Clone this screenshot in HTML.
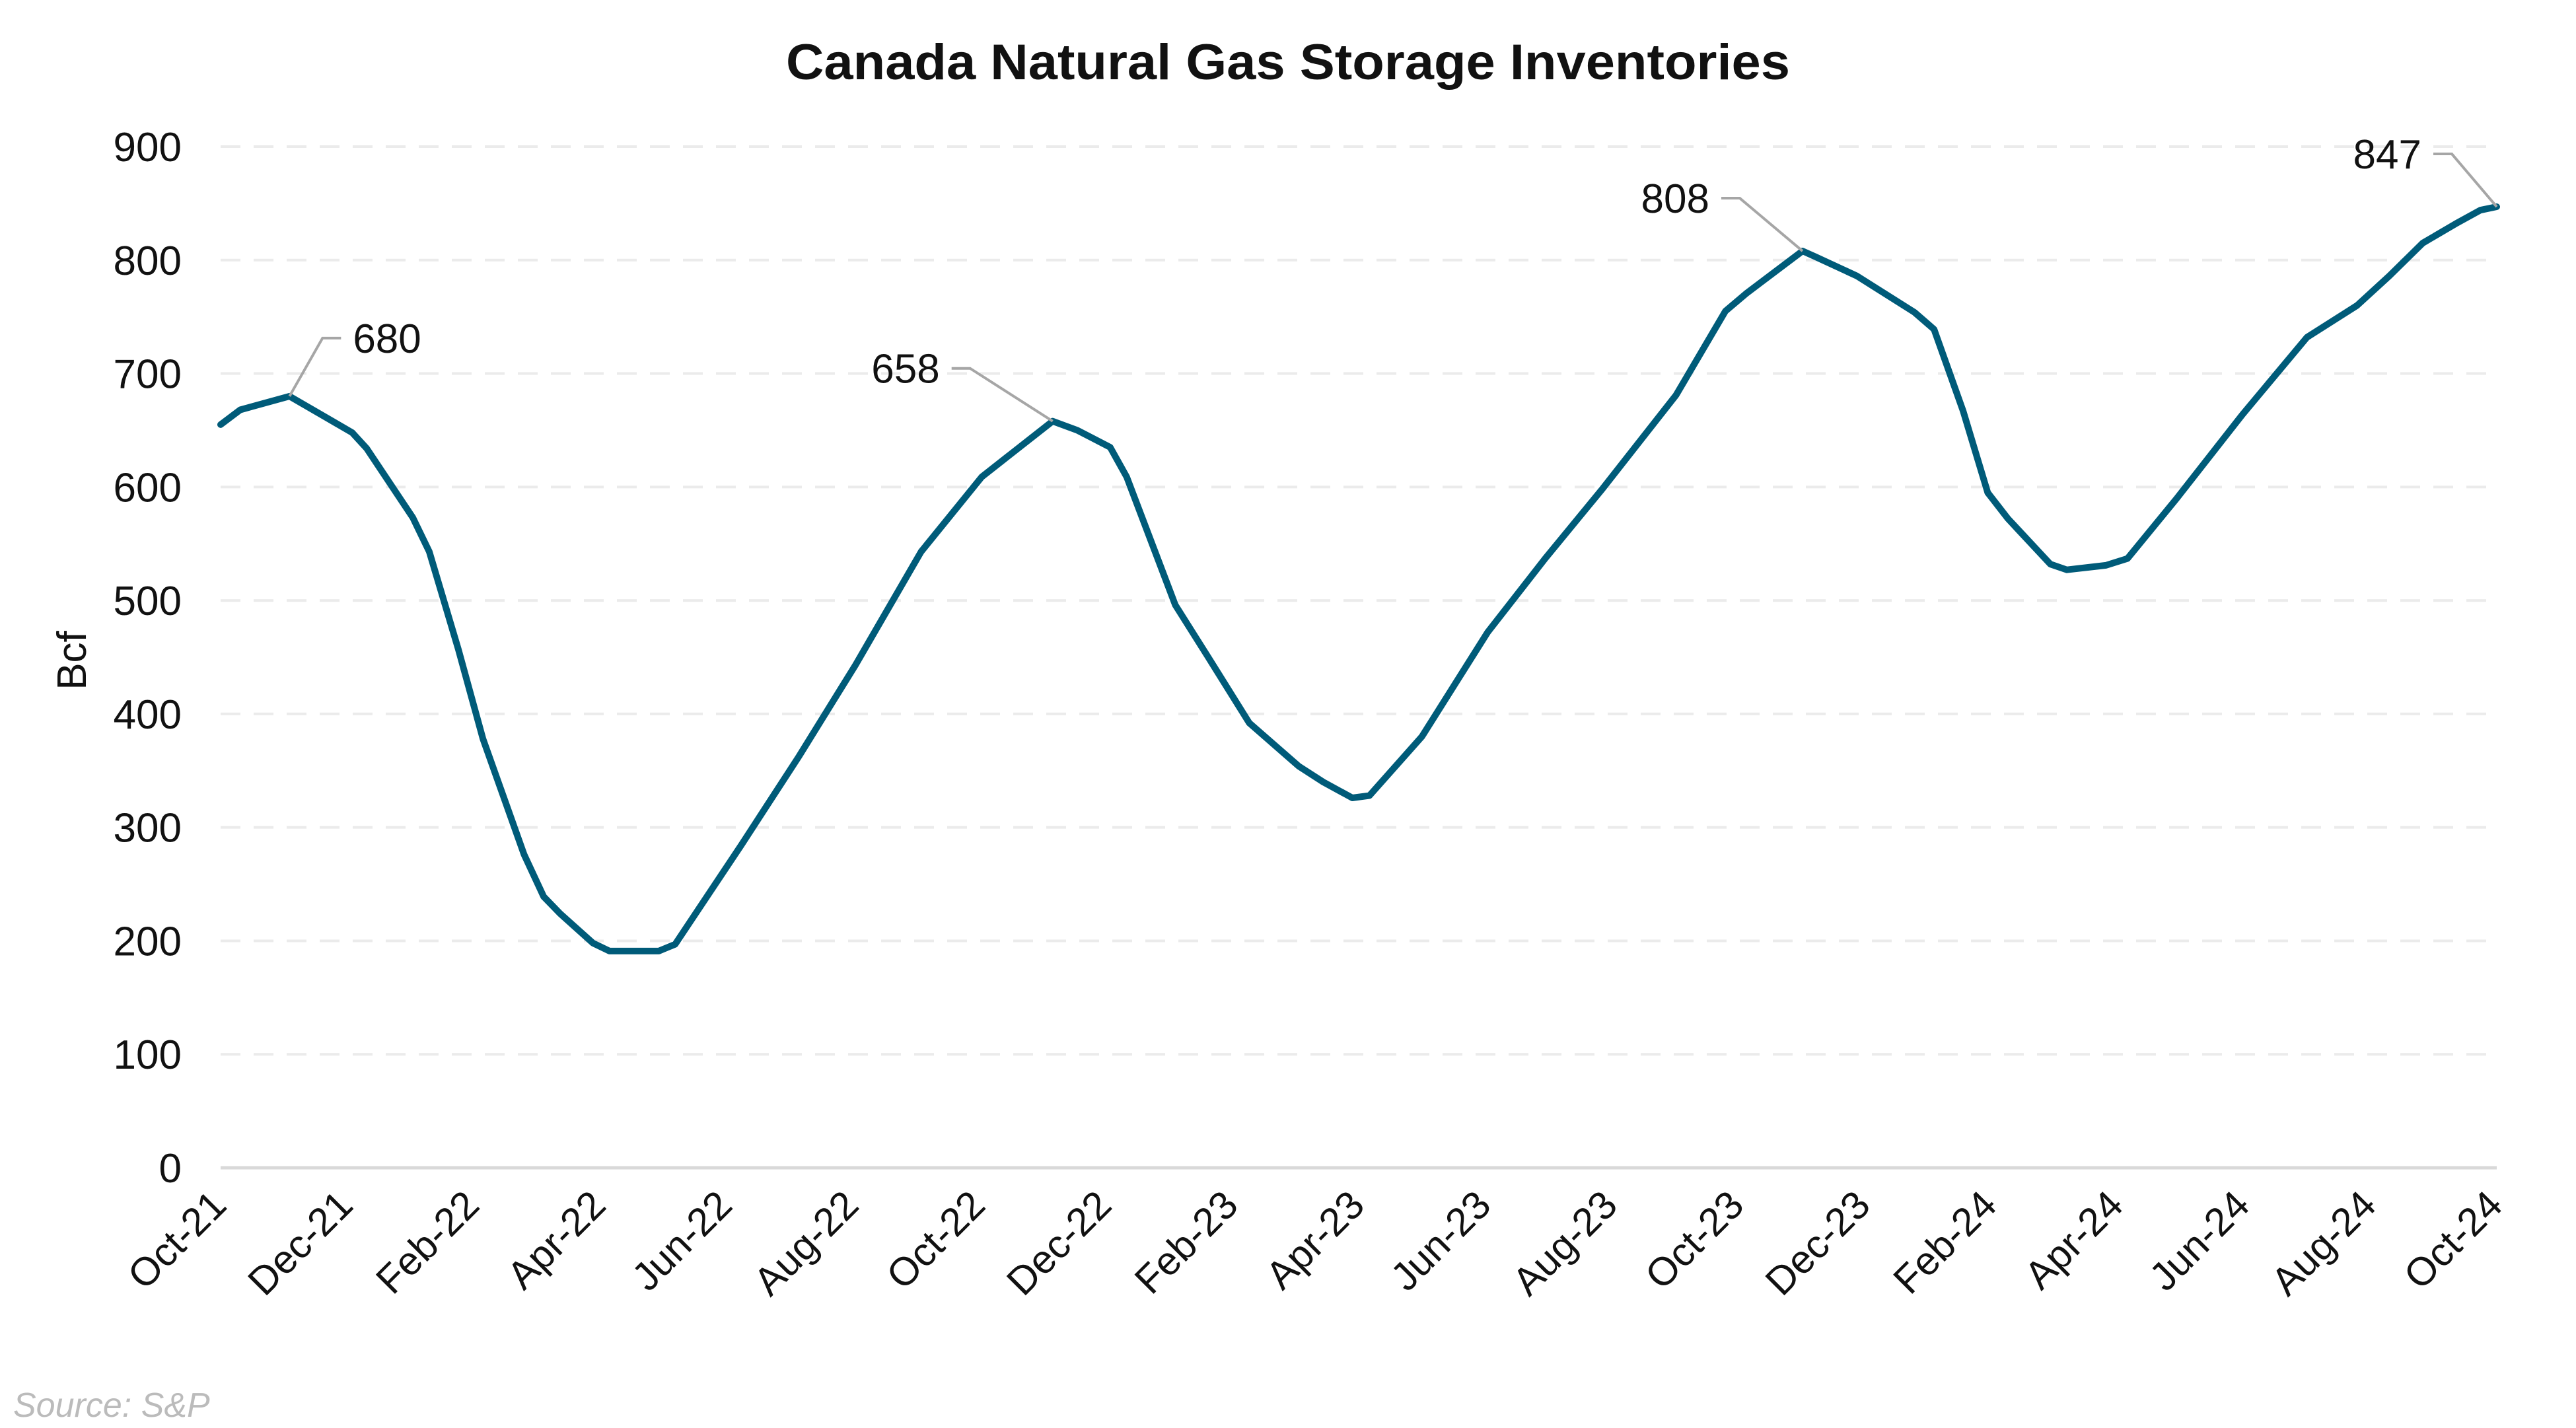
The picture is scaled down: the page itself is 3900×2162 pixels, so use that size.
<!DOCTYPE html>
<html><head><meta charset="utf-8"><style>
html,body{margin:0;padding:0;background:#fff;}
svg{display:block;font-family:"Liberation Sans",Arial,sans-serif;}
</style></head><body>
<svg id="chart" width="3900" height="2162" viewBox="0 0 3900 2162">
<text x="1950" y="120" text-anchor="middle" font-size="76" font-weight="bold" fill="#111" textLength="1520" lengthAdjust="spacingAndGlyphs">Canada Natural Gas Storage Inventories</text>
<g id="grid"></g><g id="yticks"></g><g id="xticks"></g><g id="series"></g><g id="annos"></g>
<text transform="translate(130,1000) rotate(-90)" text-anchor="middle" font-size="62" fill="#111">Bcf</text>
<text x="20" y="2145" font-size="52" font-style="italic" fill="#bbbbbb">Source: S&amp;P</text>
</svg>
<script>
const months=[0,0.31,1.09,2.08,2.31,3.04,3.3,3.76,4.15,4.8,5.11,5.37,5.89,6.15,6.41,6.93,7.19,8.23,9.14,10.04,11.08,12.04,13.16,13.55,14.07,14.33,15.1,15.62,16.27,17.05,17.44,17.9,18.17,19.0,20.04,20.95,21.85,23.02,23.8,24.14,25.02,25.22,25.88,26.79,27.1,27.56,27.95,28.27,28.94,29.2,29.82,30.16,30.94,31.98,33.0,33.79,34.3,34.83,35.35,35.74,36];
const values=[655,668,680,648,634,573,543,457,378,276,239,224,198,191,191,191,197,284,362,443,543,609,658,650,635,609,496,450,392,354,340,326,328,380,472,537,598,681,755,771,808,803,786,754,739,667,595,572,532,527,531,537,590,664,732,760,786,815,832,844,847];
const yTicks=[0,100,200,300,400,500,600,700,800,900];
const xTickLabels=["Oct-21","Dec-21","Feb-22","Apr-22","Jun-22","Aug-22","Oct-22","Dec-22","Feb-23","Apr-23","Jun-23","Aug-23","Oct-23","Dec-23","Feb-24","Apr-24","Jun-24","Aug-24","Oct-24"];
const xTickMonths=[0,2,4,6,8,10,12,14,16,18,20,22,24,26,28,30,32,34,36];
const annoIdx=[2,22,40,60];
const NS="http://www.w3.org/2000/svg";
const L=334,R=3780,Y0=1768,Y900=222;
const xs=m=>L+(R-L)*m/36;
const ys=v=>Y0-(Y0-Y900)*v/900;
function mk(tag,attrs,parent){const e=document.createElementNS(NS,tag);for(const k in attrs)e.setAttribute(k,attrs[k]);document.getElementById(parent).appendChild(e);return e;}
yTicks.forEach(v=>{
  const g=mk('line',{x1:L,x2:R,y1:ys(v),y2:ys(v),stroke:v===0?'#d9d9d9':'#ebebeb','stroke-width':v===0?5:4,'stroke-dasharray':v===0?'none':'30 20'},'grid');
  
  
  const t=mk('text',{x:275,y:ys(v)+22,'text-anchor':'end','font-size':62,fill:'#111'},'yticks');
  t.textContent=v;
  
  
});
xTickLabels.forEach((lab,i)=>{
  const x=xs(xTickMonths[i])+12,y=1828;
  const t=mk('text',{transform:`translate(${x},${y}) rotate(-45)`,'text-anchor':'end','font-size':60,fill:'#111'},'xticks');
  t.textContent=lab;
  
  
});
const d=months.map((m,i)=>(i?'L':'M')+xs(m).toFixed(1)+','+ys(values[i]).toFixed(1)).join(' ');
const p=mk('path',{d:d,fill:'none',stroke:'#005b79','stroke-width':10,'stroke-linejoin':'round','stroke-linecap':'round'},'series');


const offs=[[50,-88,1],[-125,-80,-1],[-95,-80,-1],[-68,-80,-1]];
annoIdx.forEach((idx,j)=>{
  const px=xs(months[idx]),py=ys(values[idx]);
  const [dx,dy,dir]=offs[j];
  const ex=px+dx,ey=py+dy,tx=ex+dir*28;
  const l=mk('polyline',{points:`${px},${py} ${ex},${ey} ${tx},${ey}`,fill:'none',stroke:'#a6a6a6','stroke-width':4},'annos');
  
  
  const t=mk('text',{x:tx+dir*18,y:ey+22,'text-anchor':dir>0?'start':'end','font-size':62,fill:'#111'},'annos');
  t.textContent=values[idx];
  
  
});
</script>
</body></html>
